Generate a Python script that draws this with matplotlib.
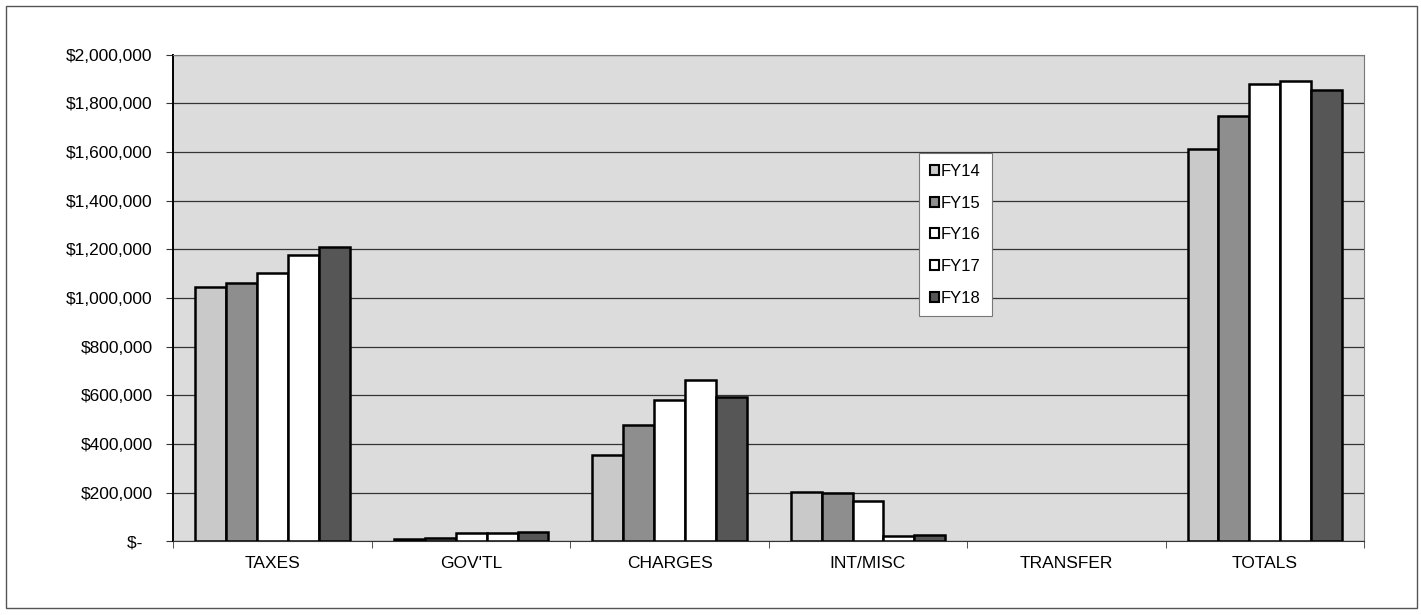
import numpy as np
import matplotlib.pyplot as plt
from matplotlib.ticker import FuncFormatter, FixedLocator
from matplotlib.patches import Rectangle

plt.rcParams['font.family'] = ['Liberation Sans', 'DejaVu Sans']

# categories and yearly values
categories = ['TAXES', "GOV'TL", 'CHARGES', 'INT/MISC', 'TRANSFER', 'TOTALS']
years = ['FY14', 'FY15', 'FY16', 'FY17', 'FY18']
fy14 = [1045000, 11000, 354000, 202000, 0, 1614000]
fy15 = [1062000, 15000, 477000, 197000, 0, 1749000]
fy16 = [1103000, 34000, 580000, 165000, 0, 1879000]
fy17 = [1177000, 34000, 662000, 21000, 0, 1892000]
fy18 = [1210000, 38000, 592000, 24000, 0, 1856000]
series = [fy14, fy15, fy16, fy17, fy18]
colors = ['#c9c9c9', '#8e8e8e', '#ffffff', '#ffffff', '#565656']

fig = plt.figure(figsize=(14.21, 6.15), dpi=100)
fig.patch.set_facecolor('white')
# outer chart border
fig.add_artist(Rectangle((0.004, 0.012), 0.993, 0.978, transform=fig.transFigure,
                         fill=False, edgecolor='#555555', linewidth=1.0))

ax = fig.add_axes([0.122, 0.120, 0.838, 0.791])
ax.set_facecolor('#dcdcdc')

x = np.arange(len(categories))
w = 0.156
for i, (vals, c) in enumerate(zip(series, colors)):
    # empty bars (TRANSFER) show no outline in the original
    lw = [1.8 if v else 0 for v in vals]
    ax.bar(x + (i - 2) * w, vals, width=w, color=c, edgecolor='black',
           linewidth=lw, label=years[i], zorder=3)

ax.set_xlim(-0.5, len(categories) - 0.5)
ax.set_ylim(0, 2000000)
ax.set_yticks(np.arange(0, 2000001, 200000))
ax.yaxis.set_major_formatter(FuncFormatter(lambda v, p: '$-  ' if v == 0 else f'${v:,.0f}'))
ax.grid(axis='y', color='#333333', linewidth=0.9, zorder=1)

ax.set_xticks(x)
ax.set_xticklabels(categories)
ax.xaxis.set_minor_locator(FixedLocator(np.arange(-0.5, len(categories), 1)))
ax.tick_params(axis='x', which='major', length=0, pad=11, labelsize=12.5)
ax.tick_params(axis='x', which='minor', length=5, direction='out', color='#333333')
ax.tick_params(axis='y', length=5, direction='out', labelsize=12.5, pad=10, color='#333333')

ax.spines['left'].set_color('black')
ax.spines['left'].set_linewidth(1.4)
ax.spines['bottom'].set_color('#333333')
ax.spines['top'].set_color('#777777')
ax.spines['right'].set_color('#777777')
ax.spines['top'].set_linewidth(0.8)
ax.spines['right'].set_linewidth(0.8)

leg = ax.legend(loc='upper left', bbox_to_anchor=(0.6467, 0.7512),
                bbox_transform=fig.transFigure, borderaxespad=0, frameon=True,
                fancybox=False, edgecolor='#777777', framealpha=1,
                handlelength=0.55, handleheight=0.55, handletextpad=0.12,
                labelspacing=1.0, fontsize=12, borderpad=0.65)
leg.get_frame().set_linewidth(0.8)
for h in leg.legend_handles:
    h.set_linewidth(1.5)

fig.savefig('out.png', dpi=100, facecolor='white')
